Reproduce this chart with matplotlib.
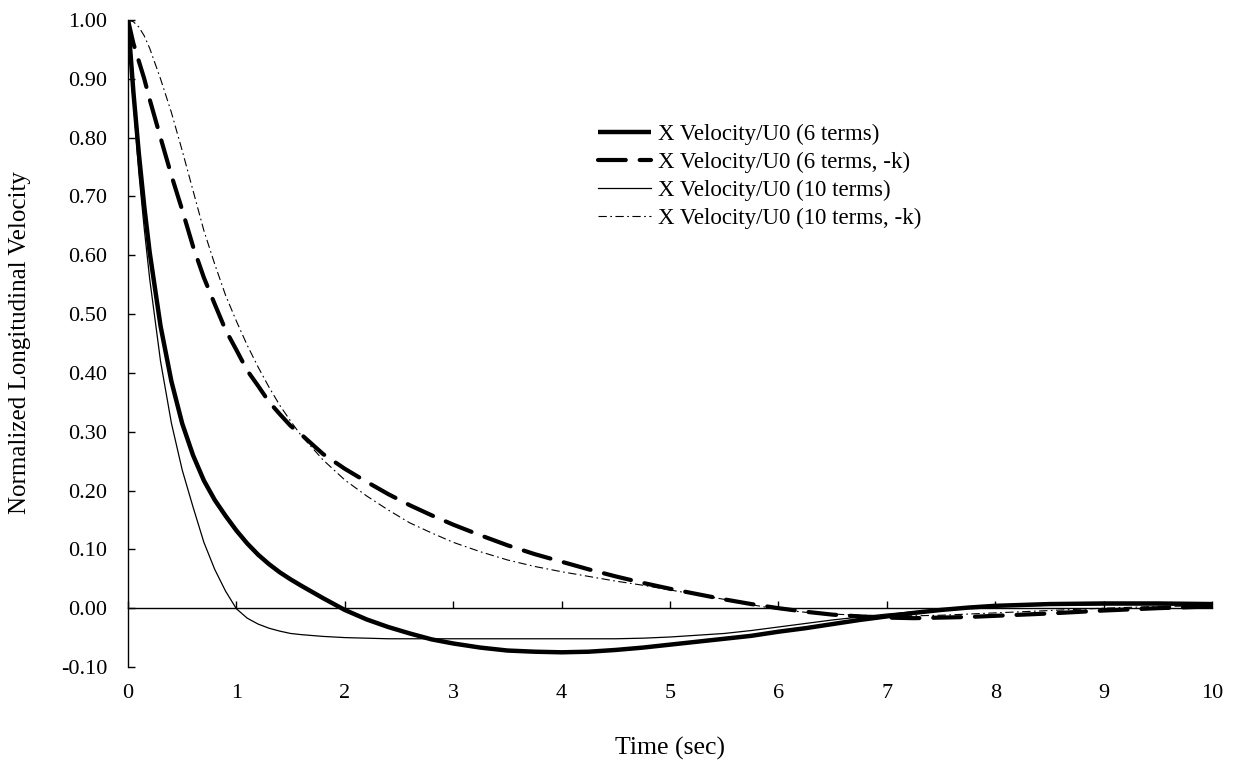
import matplotlib
matplotlib.use("Agg")
import matplotlib.pyplot as plt

plt.rcParams['font.family'] = ['Liberation Serif', 'DejaVu Serif']
plt.rcParams['lines.scale_dashes'] = False

# Time samples (s)
time = [0, 0.05, 0.1, 0.15, 0.2, 0.3, 0.4, 0.5, 0.6, 0.7, 0.8, 0.9, 1.0, 1.1,
        1.2, 1.3, 1.4, 1.5, 1.6, 1.8, 2.0, 2.2, 2.4, 2.6, 2.8, 3.0, 3.25, 3.5,
        3.75, 4.0, 4.25, 4.5, 4.75, 5.0, 5.25, 5.5, 5.75, 6.0, 6.25, 6.5, 6.75,
        7.0, 7.25, 7.5, 7.75, 8.0, 8.5, 9.0, 9.5, 10.0]

# Normalized longitudinal velocity, 6-term model
vel_6 = [1.0, 0.877, 0.773, 0.683, 0.605, 0.48, 0.386, 0.314, 0.26, 0.217,
         0.184, 0.157, 0.132, 0.110, 0.091, 0.075, 0.061, 0.049, 0.038, 0.017,
         -0.003, -0.019, -0.032, -0.043, -0.053, -0.060, -0.067, -0.072, -0.074,
         -0.075, -0.074, -0.071, -0.067, -0.062, -0.057, -0.052, -0.047, -0.040,
         -0.034, -0.027, -0.020, -0.014, -0.008, -0.003, 0.001, 0.004, 0.007,
         0.008, 0.008, 0.007]

# 6-term model, -k
vel_6k = [1.0, 0.96, 0.93, 0.90, 0.865, 0.80, 0.736, 0.677, 0.615, 0.562,
          0.517, 0.473, 0.439, 0.404, 0.378, 0.351, 0.33, 0.31, 0.295, 0.262,
          0.237, 0.215, 0.194, 0.175, 0.158, 0.142, 0.124, 0.107, 0.092, 0.079,
          0.066, 0.054, 0.043, 0.033, 0.024, 0.015, 0.007, 0.0, -0.006, -0.011,
          -0.014, -0.016, -0.017, -0.016, -0.015, -0.013, -0.009, -0.004, 0.0,
          0.003]

# 10-term model
vel_10 = [1.0, 0.86, 0.74, 0.645, 0.56, 0.42, 0.315, 0.235, 0.172, 0.112,
          0.066, 0.029, -0.001, -0.017, -0.027, -0.034, -0.039, -0.043, -0.045,
          -0.048, -0.050, -0.051, -0.052, -0.052, -0.052, -0.052, -0.052, -0.052,
          -0.052, -0.052, -0.052, -0.052, -0.051, -0.049, -0.046, -0.043, -0.038,
          -0.032, -0.026, -0.020, -0.015, -0.010, -0.006, -0.002, 0.001, 0.003,
          0.005, 0.006, 0.006, 0.005]

# 10-term model, -k
vel_10k = [1.0, 0.997, 0.988, 0.973, 0.952, 0.90, 0.843, 0.778, 0.71, 0.642,
           0.585, 0.532, 0.488, 0.447, 0.41, 0.376, 0.345, 0.318, 0.293, 0.252,
           0.218, 0.191, 0.167, 0.145, 0.128, 0.112, 0.096, 0.082, 0.071, 0.062,
           0.054, 0.046, 0.039, 0.031, 0.023, 0.015, 0.006, -0.002, -0.007,
           -0.010, -0.012, -0.013, -0.013, -0.012, -0.010, -0.008, -0.004, 0.0,
           0.003, 0.004]

labels = ["X Velocity/U0 (6 terms)", "X Velocity/U0 (6 terms, -k)",
          "X Velocity/U0 (10 terms)", "X Velocity/U0 (10 terms, -k)"]
x_ticks = list(range(0, 11))
y_ticks = [-0.10, 0.0, 0.10, 0.20, 0.30, 0.40, 0.50, 0.60, 0.70, 0.80, 0.90, 1.00]

W, H = 1237, 764
fig = plt.figure(figsize=(W / 100, H / 100), dpi=100)
ax = fig.add_axes([128 / W, 1 - 667 / H, 1084 / W, 647 / H])

ax.plot(time, vel_6, color='black', lw=3.2, solid_capstyle='butt',
        solid_joinstyle='round', label=labels[0])
ax.plot(time, vel_6k, color='black', lw=3.0, linestyle=(0, (20, 10)),
        dash_capstyle='round', label=labels[1])
ax.plot(time, vel_10, color='black', lw=0.9, solid_joinstyle='round', label=labels[2])
ax.plot(time, vel_10k, color='black', lw=0.8, linestyle=(0, (6, 2.5, 1.2, 2.5)),
        label=labels[3])

ax.set_xlim(0, 10)
ax.set_ylim(-0.10, 1.00)

for side in ('top', 'right'):
    ax.spines[side].set_visible(False)
ax.spines['left'].set_linewidth(1.0)
ax.spines['bottom'].set_position(('data', 0))
ax.spines['bottom'].set_linewidth(1.0)

ax.set_yticks(y_ticks)
ax.set_yticklabels([f"{v:.2f}" for v in y_ticks])
ax.tick_params(axis='y', direction='in', length=5, width=1.0, pad=15, labelsize=16)

ax.set_xticks(x_ticks)
ax.tick_params(axis='x', direction='in', length=5, width=1.0, labelbottom=False)

# Tick labels for time sit below the plotting area
sec = ax.secondary_xaxis('bottom')
sec.set_xticks(x_ticks)
sec.spines['bottom'].set_visible(False)
sec.tick_params(axis='x', length=0, pad=12, labelsize=16)

fig.text(670 / W, 1 - 748 / H, "Time (sec)", ha='center', va='center', fontsize=18.5)
fig.text(20 / W, 1 - 343 / H, "Normalized Longitudinal Velocity", rotation=90,
         ha='center', va='center', fontsize=18)

ax.legend(loc='upper left', bbox_to_anchor=((598 - 128) / 1084, (667 - 124) / 647),
          frameon=False, fontsize=16.5, handlelength=2.3, handletextpad=0.3,
          borderpad=0, borderaxespad=0, labelspacing=0.3)

fig.savefig("out.png", dpi=100)
